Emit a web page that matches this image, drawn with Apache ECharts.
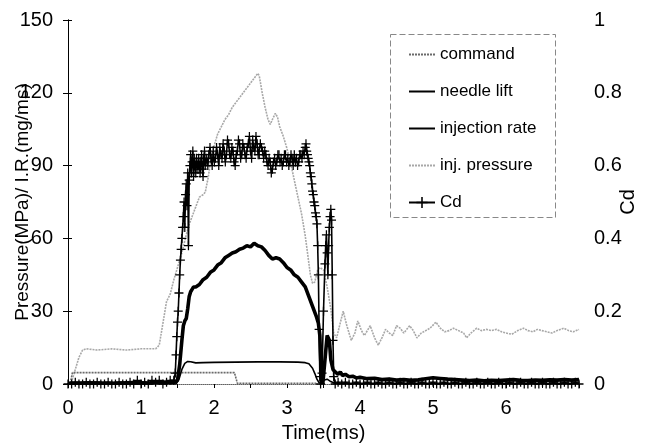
<!DOCTYPE html>
<html>
<head>
<meta charset="utf-8">
<script src="https://cdn.jsdelivr.net/npm/echarts@6/dist/echarts.min.js"></script>
<style>html,body{margin:0;padding:0;background:#fff}#c{width:650px;height:447px}</style>
</head>
<body>
<div id="c"></div>
<script>
// ---- data (time in ms) ----
var seriesNames = ['command', 'needle lift', 'injection rate', 'inj. pressure', 'Cd'];
var xTicks = [0, 1, 2, 3, 4, 5, 6];

var command = [[0,0],[0.03,0],[0.06,4.7],[1.0,4.7],[2.0,4.7],[2.28,4.7],[2.32,0.3],[3.4,0.3]];

var needleLift = [[0,0],[1.48,0],[1.52,2],[1.56,6],[1.6,8.5],[1.64,9.3],[1.68,9.2],[1.75,8.7],[1.85,8.8],
  [2.0,8.9],[2.3,9.0],[2.6,9.1],[2.9,9.1],[3.15,9.0],[3.25,8.8],[3.3,8.3],[3.35,6.5],[3.38,4.4],[3.41,2],
  [3.44,0.5],[3.47,0.3],[3.5,1.5],[3.55,2],[3.6,1],[3.65,0.3],[3.8,0.3],[7,0.3]];

var injRate = [[0,0.3],[0.3,0.5],[0.6,0.3],[0.9,0.6],[1.1,0.4],[1.3,0.8],[1.45,0.6],[1.5,1.5],[1.53,8],
  [1.56,18],[1.58,24],[1.6,26],[1.62,27],[1.64,31],[1.66,36],[1.68,38],[1.7,39],[1.72,40],[1.75,40],
  [1.8,41],[1.85,43],[1.9,44],[1.95,46],[2.0,47],[2.05,49],[2.1,50],[2.15,52],[2.2,53],[2.25,54],
  [2.3,54.5],[2.35,55.5],[2.4,56],[2.45,57],[2.5,56.5],[2.55,58],[2.6,57],[2.65,56.5],[2.7,55],
  [2.75,53],[2.8,51.5],[2.85,52],[2.9,51.5],[2.95,50],[3.0,48],[3.05,47],[3.1,45],[3.15,44],[3.2,42],
  [3.25,40],[3.3,36],[3.35,32],[3.4,28],[3.43,25],[3.45,20],[3.47,3],[3.49,0],[3.52,10],[3.55,20],
  [3.58,18],[3.6,10],[3.63,6],[3.66,5],[3.7,4],[3.73,5],[3.76,3.5],[3.8,4],[3.85,3],[3.9,3.2],
  [3.95,2.5],[4.0,2.8],[4.1,2.2],[4.2,2.4],[4.3,1.8],[4.4,2],[4.5,1.6],[4.6,1.8],[4.7,1.5],[4.8,1.7],
  [4.9,2.2],[5.0,2.6],[5.1,2.3],[5.2,2.0],[5.3,1.8],[5.4,1.6],[5.5,1.4],[5.6,1.6],[5.7,1.3],[5.8,1.5],
  [5.9,1.4],[6.0,1.6],[6.1,1.8],[6.2,1.5],[6.3,1.4],[6.4,1.6],[6.5,1.5],[6.6,1.7],[6.7,1.6],[6.8,1.8],
  [6.9,1.6],[7.0,1.8]];

var injPressure = [[0,0],[0.05,1],[0.1,6],[0.15,11],[0.2,14],[0.25,14.5],[0.4,14],[0.6,14.5],[0.8,14],
  [1.0,14.5],[1.2,14.5],[1.25,16],[1.3,25],[1.35,34],[1.4,37],[1.45,43],[1.5,48],[1.55,53],[1.6,59],
  [1.65,65],[1.7,69],[1.75,73],[1.8,77],[1.85,78],[1.88,79],[1.92,85],[1.96,93],[2.0,98],[2.05,103],
  [2.1,106],[2.15,109],[2.2,111],[2.25,114],[2.3,116],[2.35,118],[2.4,120],[2.45,122],[2.5,124],
  [2.55,126],[2.6,128],[2.62,127],[2.66,120],[2.7,114],[2.74,109],[2.77,107],[2.8,109],[2.84,111.5],
  [2.87,110],[2.9,106],[2.95,102],[3.0,97],[3.05,91],[3.1,84],[3.15,77],[3.2,70],[3.25,61],[3.29,52],
  [3.32,45],[3.35,41.5],[3.38,42],[3.42,47],[3.45,48],[3.5,47],[3.55,40],[3.6,31],[3.64,21],[3.68,19],
  [3.72,24],[3.77,30],[3.82,24],[3.88,18],[3.93,21],[3.97,26],[4.02,22],[4.06,20],[4.1,22],[4.14,24],
  [4.2,19],[4.25,16],[4.3,19],[4.35,22.5],[4.4,21],[4.45,20],[4.5,24],[4.55,23],[4.6,21],[4.68,24],
  [4.73,22],[4.78,19],[4.84,21],[4.9,22],[4.96,23],[5.04,25.5],[5.1,23],[5.16,21.5],[5.22,22],
  [5.28,23],[5.35,22],[5.42,21],[5.46,19],[5.52,21],[5.6,23],[5.66,22],[5.73,22.5],[5.8,22],
  [5.87,22.5],[5.94,21.5],[6.0,21],[6.08,20.5],[6.16,22],[6.24,23],[6.3,22],[6.37,21.5],[6.43,22.5],
  [6.49,22],[6.56,21.5],[6.63,21],[6.7,22],[6.79,23],[6.86,22],[6.92,21.5],[7.0,22.5]];

var cd = [[0,0],[0.05,0],[0.1,0.005],[0.15,0],[0.2,0],[0.25,0.005],[0.3,0],[0.35,0],[0.4,0.005],[0.45,0],
  [0.5,0],[0.55,0.005],[0.6,0],[0.65,0],[0.7,0.005],[0.75,0],[0.8,0],[0.85,0.005],[0.9,0],[0.95,0.01],
  [1.0,0],[1.05,0.005],[1.1,0],[1.15,0.01],[1.2,0.005],[1.25,0.01],[1.3,0],[1.35,0.005],[1.4,0.01],
  [1.45,0.01],[1.47,0.03],[1.48,0.08],[1.49,0.13],[1.5,0.17],[1.51,0.2],[1.52,0.25],[1.53,0.3],
  [1.54,0.34],[1.55,0.37],[1.56,0.4],[1.57,0.43],[1.58,0.46],[1.59,0.5],[1.6,0.43],[1.61,0.52],
  [1.62,0.55],[1.63,0.49],[1.64,0.58],[1.65,0.38],[1.66,0.56],[1.67,0.6],[1.68,0.63],[1.69,0.58],
  [1.7,0.61],[1.71,0.64],[1.72,0.57],[1.73,0.62],[1.74,0.6],[1.75,0.58],[1.76,0.62],[1.77,0.6],
  [1.78,0.59],[1.79,0.62],[1.8,0.6],[1.81,0.58],[1.82,0.61],[1.83,0.63],[1.84,0.59],[1.85,0.57],
  [1.86,0.62],[1.87,0.64],[1.88,0.6],[1.89,0.61],[1.9,0.62],[1.915,0.6],[1.93,0.63],[1.945,0.65],
  [1.96,0.62],[1.975,0.6],[1.99,0.64],[2.005,0.61],[2.02,0.62],[2.035,0.65],[2.05,0.63],[2.065,0.6],
  [2.08,0.65],[2.095,0.63],[2.11,0.62],[2.125,0.66],[2.14,0.64],[2.155,0.61],[2.17,0.63],[2.185,0.67],
  [2.2,0.66],[2.215,0.63],[2.23,0.62],[2.245,0.65],[2.26,0.64],[2.275,0.61],[2.29,0.6],[2.305,0.63],
  [2.32,0.64],[2.335,0.67],[2.35,0.66],[2.365,0.62],[2.38,0.63],[2.395,0.66],[2.41,0.65],[2.425,0.63],
  [2.44,0.62],[2.455,0.65],[2.47,0.66],[2.485,0.68],[2.5,0.64],[2.515,0.62],[2.53,0.67],[2.545,0.65],
  [2.56,0.64],[2.575,0.68],[2.59,0.66],[2.605,0.63],[2.62,0.63],[2.635,0.66],[2.65,0.65],[2.665,0.64],
  [2.68,0.62],[2.695,0.64],[2.71,0.63],[2.725,0.61],[2.74,0.6],[2.755,0.62],[2.77,0.61],[2.785,0.58],
  [2.8,0.59],[2.815,0.61],[2.83,0.62],[2.845,0.6],[2.86,0.61],[2.875,0.63],[2.89,0.63],[2.905,0.61],
  [2.92,0.62],[2.935,0.6],[2.95,0.61],[2.965,0.63],[2.98,0.63],[2.995,0.61],[3.01,0.62],[3.025,0.6],
  [3.04,0.61],[3.055,0.63],[3.07,0.62],[3.085,0.6],[3.1,0.63],[3.115,0.61],[3.13,0.62],[3.145,0.6],
  [3.16,0.61],[3.175,0.63],[3.19,0.63],[3.205,0.62],[3.22,0.64],[3.235,0.63],[3.25,0.65],[3.26,0.66],
  [3.27,0.64],[3.28,0.63],[3.29,0.62],[3.3,0.61],[3.31,0.6],[3.32,0.58],[3.33,0.57],[3.34,0.55],
  [3.35,0.53],[3.36,0.52],[3.37,0.5],[3.38,0.49],[3.39,0.47],[3.4,0.46],[3.41,0.44],[3.42,0.38],
  [3.43,0.3],[3.44,0.15],[3.45,0.02],[3.46,0],[3.48,0.03],[3.5,0.2],[3.52,0.33],[3.53,0.38],[3.54,0.41],
  [3.55,0.36],[3.56,0.3],[3.57,0.38],[3.58,0.43],[3.59,0.46],[3.6,0.48],[3.61,0.45],[3.62,0.3],
  [3.63,0.12],[3.64,0.02],[3.66,0],[3.7,0.005],[3.75,0],[3.8,0.005],[3.85,0],[3.9,0],[3.95,0.005],
  [4.0,0],[4.05,0],[4.1,0.005],[4.15,0],[4.2,0],[4.25,0.005],[4.3,0],[4.35,0],[4.4,0.005],[4.45,0],
  [4.5,0],[4.55,0.005],[4.6,0],[4.65,0],[4.7,0.005],[4.75,0],[4.8,0],[4.85,0.005],[4.9,0],[4.95,0],
  [5.0,0.005],[5.05,0],[5.1,0],[5.15,0.005],[5.2,0],[5.25,0],[5.3,0.005],[5.35,0],[5.4,0],[5.45,0.005],
  [5.5,0],[5.55,0],[5.6,0.005],[5.65,0],[5.7,0],[5.75,0.005],[5.8,0],[5.85,0],[5.9,0.005],[5.95,0],
  [6.0,0],[6.05,0.005],[6.1,0],[6.15,0],[6.2,0.005],[6.25,0],[6.3,0],[6.35,0.005],[6.4,0],[6.45,0],
  [6.5,0.005],[6.55,0],[6.6,0],[6.65,0.005],[6.7,0],[6.75,0],[6.8,0.005],[6.85,0],[6.9,0],[6.95,0.005],
  [7.0,0]];

// ---- chart ----
var FONT = 'Liberation Sans';
var plus = 'path://M0,4.3H10V5.7H0Z M4.3,0H5.7V10H4.3Z';
var hide = {opacity: 0};
var chart = echarts.init(document.getElementById('c'), null, {renderer: 'canvas'});
chart.setOption({
  animation: false,
  backgroundColor: '#fff',
  textStyle: {fontFamily: FONT},
  grid: {left: 68, right: 71, top: 20, bottom: 63, outerBoundsMode: 'none', containLabel: false},
  graphic: [{
    type: 'rect', left: 390, top: 34, z: 0,
    shape: {width: 165, height: 183},
    style: {fill: '#fff', stroke: '#888', lineWidth: 1, lineDash: [6, 3]}
  }],
  legend: {
    orient: 'vertical', left: 403, top: 41, itemWidth: 26, itemHeight: 14, itemGap: 20,
    data: [
      {name: 'command', itemStyle: hide},
      {name: 'needle lift', itemStyle: hide},
      {name: 'injection rate', itemStyle: hide},
      {name: 'inj. pressure', itemStyle: hide},
      {name: 'Cd'}
    ],
    textStyle: {fontFamily: FONT, fontSize: 17, color: '#000'},
    z: 5
  },
  xAxis: [{
    type: 'value', min: 0, max: 7, interval: 0.5,
    name: 'Time(ms)', nameLocation: 'middle', nameGap: 39, nameMoveOverlap: false,
    nameTextStyle: {fontFamily: FONT, fontSize: 20, color: '#000'},
    axisLine: {lineStyle: {color: '#000', width: 1}},
    axisTick: {show: true, length: 4, lineStyle: {color: '#000'}},
    axisLabel: {fontFamily: FONT, fontSize: 20, color: '#000', margin: 14,
      formatter: function (v) { return xTicks.indexOf(v) >= 0 ? String(v) : ''; }},
    splitLine: {show: false}
  }, {
    type: 'value', position: 'top', min: 0, max: 7,
    axisLine: {show: true, lineStyle: {color: '#999', width: 1, type: 'dotted'}},
    axisTick: {show: false}, axisLabel: {show: false}, splitLine: {show: false}
  }],
  yAxis: [{
    type: 'value', min: 0, max: 150, interval: 30, position: 'left',
    name: 'Pressure(MPa)/ I.R.(mg/ms)', nameLocation: 'middle', nameGap: 36, nameMoveOverlap: false,
    nameTextStyle: {fontFamily: FONT, fontSize: 19, color: '#000'},
    axisLine: {show: true, lineStyle: {color: '#000', width: 1}},
    axisTick: {show: true, length: 5, lineStyle: {color: '#000'}},
    axisLabel: {fontFamily: FONT, fontSize: 20, color: '#000', margin: 15},
    splitLine: {show: false}
  }, {
    type: 'value', min: 0, max: 1, interval: 0.2, position: 'right',
    name: 'Cd', nameLocation: 'middle', nameGap: 39, nameMoveOverlap: false,
    nameTextStyle: {fontFamily: FONT, fontSize: 20, color: '#000'},
    axisLine: {show: true, lineStyle: {color: '#000', width: 1}},
    axisTick: {show: true, length: 4, lineStyle: {color: '#000'}},
    axisLabel: {fontFamily: FONT, fontSize: 20, color: '#000', margin: 15},
    splitLine: {show: false}
  }],
  series: [{
    name: 'command', type: 'line', xAxisIndex: 0, yAxisIndex: 0, data: command,
    showSymbol: false, symbol: 'none', z: 3,
    lineStyle: {color: '#6a6a6a', width: 1.6, type: [2, 1]}, itemStyle: {color: '#6a6a6a'}
  }, {
    name: 'needle lift', type: 'line', xAxisIndex: 0, yAxisIndex: 0, data: needleLift,
    showSymbol: false, symbol: 'none', z: 4,
    lineStyle: {color: '#000', width: 1.6}, itemStyle: {color: '#000'}
  }, {
    name: 'injection rate', type: 'line', xAxisIndex: 0, yAxisIndex: 0, data: injRate,
    showSymbol: false, symbol: 'none', z: 4,
    lineStyle: {color: '#000', width: 3.6}, itemStyle: {color: '#000'}
  }, {
    name: 'inj. pressure', type: 'line', xAxisIndex: 0, yAxisIndex: 0, data: injPressure,
    showSymbol: false, symbol: 'none', z: 2,
    lineStyle: {color: '#a8a8a8', width: 1.6, type: [2, 1]}, itemStyle: {color: '#a8a8a8'}
  }, {
    name: 'Cd', type: 'line', xAxisIndex: 0, yAxisIndex: 1, data: cd,
    showSymbol: true, symbol: plus, symbolSize: [9, 9], z: 5,
    lineStyle: {color: '#000', width: 1.6}, itemStyle: {color: '#000'}
  }]
});
</script>
</body>
</html>
